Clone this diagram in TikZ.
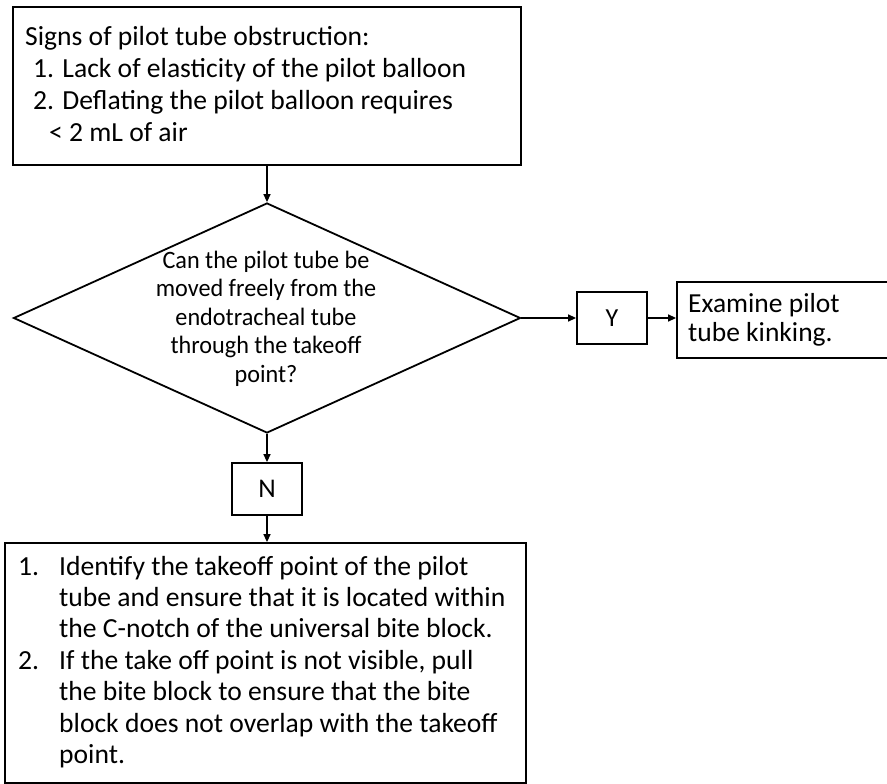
\documentclass[tikz,border=0pt]{standalone}
\usepackage{fontspec}
\setmainfont{Carlito}
\newfontfamily\diafont[FakeStretch=0.968]{Carlito}
\usetikzlibrary{shapes.geometric,arrows.meta}
\tikzset{
  box/.style={draw, line width=1.8pt, inner sep=0pt},
  txt/.style={inner sep=0pt, align=left},
  conn/.style={line width=1.4pt, -{Triangle[length=8pt,width=7pt]}},
}
\begin{document}
\begin{tikzpicture}[x=1pt,y=-1pt]
\useasboundingbox (0,0) rectangle (887,784);
% top box
\node[box, minimum width=508, minimum height=158] (top) at (267,86) {};
\node[txt, anchor=north west, font=\fontsize{27.6}{32}\selectfont] (toptxt) at (25,25.7) {Signs of pilot tube obstruction:\\
\hspace*{8pt}1. Lack of elasticity of the pilot balloon\\
\hspace*{8pt}2. Deflating the pilot balloon requires\\
\hspace*{24pt}< 2 mL of air};
% diamond
\node[draw, line width=1.8pt, diamond, minimum width=507, minimum height=230, inner sep=0pt] (dec) at (267,318) {};
\node[inner sep=0pt, anchor=north, font=\diafont\fontsize{25}{28.5}\selectfont, align=center] (dectxt) at (266,250.5) {Can the pilot tube be\\moved freely from the\\endotracheal tube\\through the takeoff\\point?};
% Y
\node[box, minimum width=70, minimum height=52, font=\fontsize{26}{28}\selectfont] (Y) at (612,318) {Y};
% examine (its right side runs past the picture's edge)
\node[box, minimum width=260, minimum height=76] (exam) at (807,320) {};
\node[txt, anchor=north west, font=\fontsize{27.5}{29}\selectfont] (examtxt) at (688,293.7) {Examine pilot\\tube kinking.};
% N
\node[box, minimum width=70, minimum height=52, font=\fontsize{27}{28}\selectfont] (N) at (267,489) {N};
% bottom box
\node[box, minimum width=521, minimum height=240] (bot) at (265.5,663) {};
\node[txt, anchor=north west, font=\fontsize{27.6}{31.4}\selectfont] (bottxt) at (18,555.7) {\makebox[41pt][l]{1.}Identify the takeoff point of the pilot\\
\hspace*{41pt}tube and ensure that it is located within\\
\hspace*{41pt}the C-notch of the universal bite block.\\
\makebox[41pt][l]{2.}If the take off point is not visible, pull\\
\hspace*{41pt}the bite block to ensure that the bite\\
\hspace*{41pt}block does not overlap with the takeoff\\
\hspace*{41pt}point.};
% connectors
\draw[conn] (top.south) -- (dec.north);
\draw[conn] (dec.east) -- (Y.west);
\draw[conn] (Y.east) -- (Y.east -| exam.west);
\draw[conn] (dec.south) -- (N.north);
\draw[conn] (N.south) -- (N.south |- bot.north);
\end{tikzpicture}
\end{document}
